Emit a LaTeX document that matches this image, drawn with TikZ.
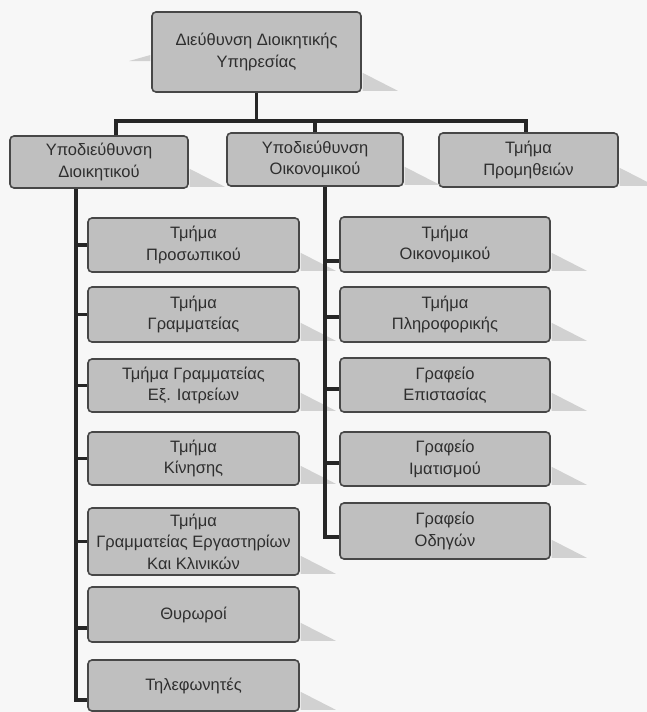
\documentclass[tikz,border=0pt]{standalone}
\usepackage{fontspec}
\setmainfont{Liberation Sans}
\usetikzlibrary{calc}
\begin{document}
\begin{tikzpicture}[x=1pt,y=-1pt,
  box/.style={draw=black!72, line width=1.6pt, rounded corners=4pt, fill=black!25,
    align=center, inner sep=0pt, font=\fontsize{16.5}{21.5}\selectfont, text=black!82},
  lbox/.style={box, minimum width=211pt},
  rbox/.style={box, minimum width=210pt},
  conn/.style={draw=black!85, line width=3.2pt},
  shade/.style={fill=black!18}]
\useasboundingbox[fill=black!3] (0,0) rectangle (647,712);

% nodes
\node[box, minimum width=209pt, minimum height=80pt] (top) at (256.5,52) {Διεύθυνση Διοικητικής\\Υπηρεσίας};
\node[box, minimum width=178pt, minimum height=52pt] (sa) at (99,162) {Υποδιεύθυνση\\Διοικητικού};
\node[box, minimum width=176pt, minimum height=53pt] (sb) at (315,159.5) {Υποδιεύθυνση\\Οικονομικού};
\node[box, minimum width=179pt, minimum height=54pt] (sc) at (528.5,160) {Τμήμα\\Προμηθειών};

\node[lbox, minimum height=54pt] (l1) at (193.5,245) {Τμήμα\\Προσωπικού};
\node[lbox, minimum height=55pt] (l2) at (193.5,314.5) {Τμήμα\\Γραμματείας};
\node[lbox, minimum height=53pt] (l3) at (193.5,385.5) {Τμήμα Γραμματείας\\Εξ. Ιατρείων};
\node[lbox, minimum height=53pt] (l4) at (193.5,458.5) {Τμήμα\\Κίνησης};
\node[lbox, minimum height=67pt] (l5) at (193.5,541.5) {Τμήμα\\Γραμματείας Εργαστηρίων\\Και Κλινικών};
\node[lbox, minimum height=55pt] (l6) at (193.5,614.5) {Θυρωροί};
\node[lbox, minimum height=51pt] (l7) at (193.5,685.5) {Τηλεφωνητές};

\node[rbox, minimum height=55pt] (r1) at (445,244.5) {Τμήμα\\Οικονομικού};
\node[rbox, minimum height=55pt] (r2) at (445,314.5) {Τμήμα\\Πληροφορικής};
\node[rbox, minimum height=54pt] (r3) at (445,385) {Γραφείο\\Επιστασίας};
\node[rbox, minimum height=54pt] (r4) at (445,459) {Γραφείο\\Ιματισμού};
\node[rbox, minimum height=56pt] (r5) at (445,531) {Γραφείο\\Οδηγών};

% shadows
\foreach \n in {top,sa,sb,sc,l1,l2,l3,l4,l5,l6,l7,r1,r2,r3,r4,r5}{
  \fill[shade] ([xshift=0.8pt,yshift=20pt]\n.south east) -- ([xshift=36pt,yshift=2pt]\n.south east) -- ([xshift=0.8pt,yshift=2pt]\n.south east) -- cycle;
}
\fill[shade] ([xshift=-0.8pt,yshift=-3pt]top.west) -- ([xshift=-22pt,yshift=-9pt]top.west) -- ([xshift=-0.8pt,yshift=-9pt]top.west) -- cycle;

% top connectors
\coordinate (ja) at (116,121);
\coordinate (jb) at (315,121);
\coordinate (jc) at (526,121);
\draw[conn] (top.south) -- (top.south |- jb);
\draw[conn] (ja |- sa.north) -- (ja) -- (jc) -- (jc |- sc.north);
\draw[conn] (jb) -- (jb |- sb.north);

% left trunk
\coordinate (lt) at (76,700);
\coordinate (l6b) at (76,628);
\draw[conn] (sa.south -| lt) -- (lt) -- (lt -| l7.west);
\draw[conn] (lt |- l1.west) -- (l1.west);
\draw[conn] (lt |- l2.west) -- (l2.west);
\draw[conn] (lt |- l3.west) -- (l3.west);
\draw[conn] (lt |- l4.west) -- (l4.west);
\draw[conn] (lt |- l5.west) -- (l5.west);
\draw[conn] (l6b) -- (l6b -| l6.west);

% right trunk
\coordinate (rt) at (325,537);
\coordinate (r1b) at (325,261);
\coordinate (r2b) at (325,317);
\coordinate (r3b) at (325,389);
\coordinate (r4b) at (325,463);
\draw[conn] (sb.south -| rt) -- (rt) -- (rt -| r5.west);
\draw[conn] (r1b) -- (r1b -| r1.west);
\draw[conn] (r2b) -- (r2b -| r2.west);
\draw[conn] (r3b) -- (r3b -| r3.west);
\draw[conn] (r4b) -- (r4b -| r4.west);
\end{tikzpicture}
\end{document}
